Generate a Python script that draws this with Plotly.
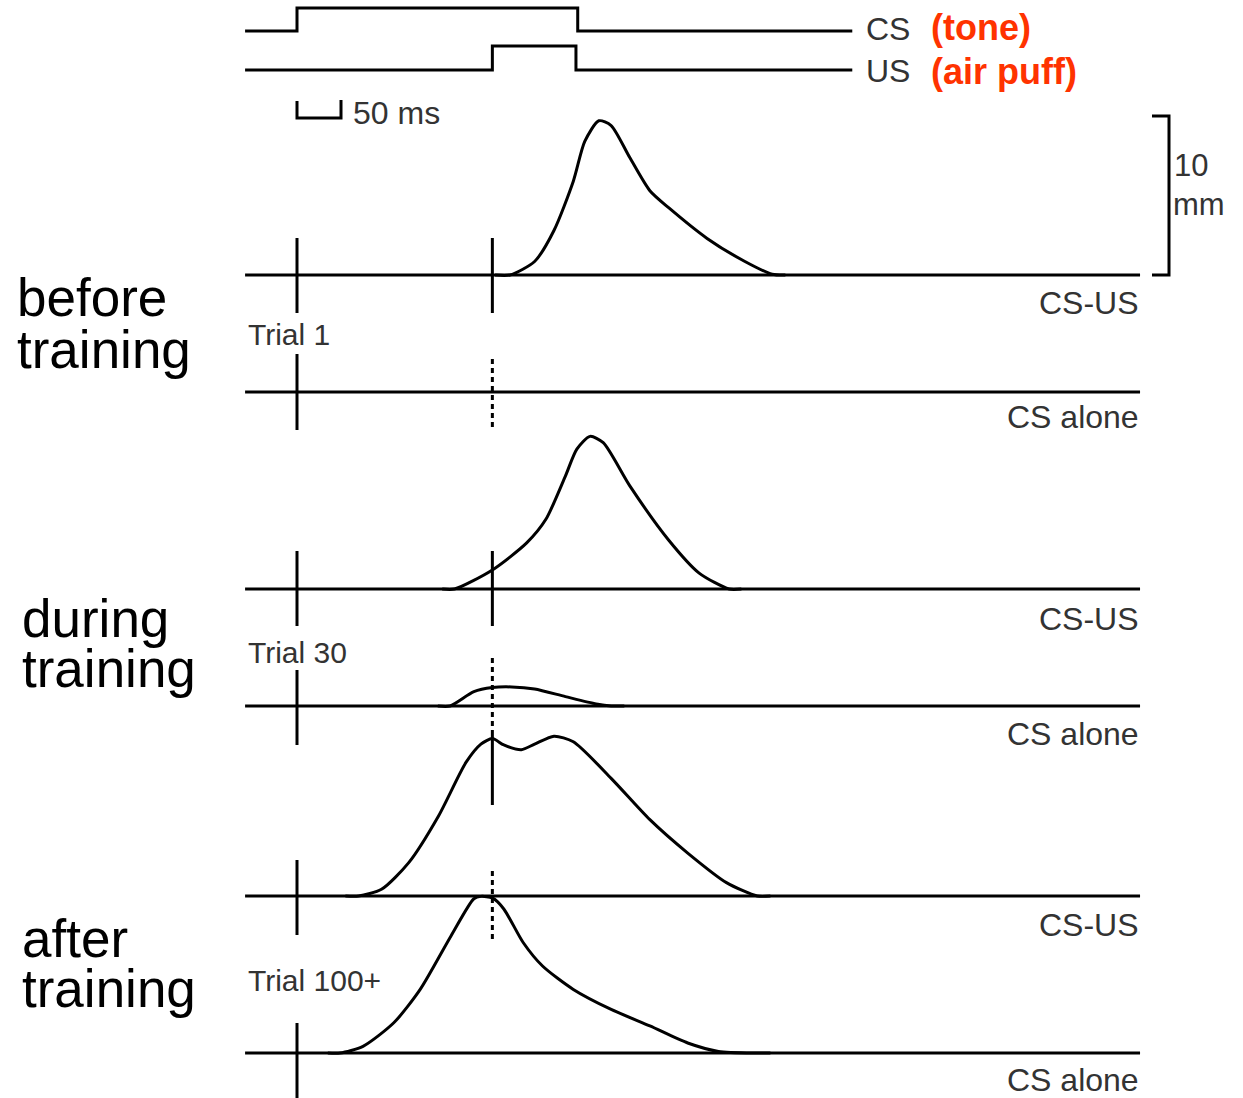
import plotly.graph_objects as go

# ---------------- data (time in ms, amplitude in mm of eyelid closure) ----------------
TRACE_START = -59
TRACE_END = 958
CS_ON = 0
US_ON = 222
CS_OFF = 319
US_OFF = 317
STIM_END = 631

row_labels = ["CS-US", "CS alone", "CS-US", "CS alone", "CS-US", "CS alone"]
trial_labels = ["Trial 1", "Trial 30", "Trial 100+"]
stage_labels = [("before", "training"), ("during", "training"), ("after", "training")]

# response portions of each trace (baseline is flat elsewhere)
# before training, CS-US
t_before_csus = [225, 242, 270, 292, 314, 327, 343, 357, 378, 401, 423, 466, 509, 540, 555]
a_before_csus = [0, 0, 0.85, 2.8, 5.9, 8.4, 9.7, 9.4, 7.4, 5.3, 4.2, 2.3, 0.85, 0.05, 0]
# before training, CS alone (no response)
t_before_cs = []
a_before_cs = []
# during training, CS-US
t_during_csus = [165, 179, 222, 261, 283, 305, 318, 333, 348, 378, 422, 457, 491, 505]
a_during_csus = [0, 0, 1.2, 2.9, 4.4, 7.1, 8.8, 9.6, 9.2, 6.5, 3.1, 1.0, 0, 0]
# during training, CS alone
t_during_cs = [160, 174, 201, 222, 244, 270, 305, 340, 357, 372]
a_during_cs = [0, 0, 0.9, 1.16, 1.2, 1.07, 0.59, 0.13, 0, 0]
# after training, CS-US
t_after_csus = [55, 70, 96, 127, 161, 192, 209, 222, 235, 255, 270, 292, 314, 357, 401, 444, 488, 523, 538]
a_after_csus = [0, 0, 0.42, 2.1, 5.05, 8.4, 9.55, 9.9, 9.5, 9.2, 9.55, 10.05, 9.7, 7.4, 4.8, 2.7, 0.84, 0, 0]
# after training, CS alone
t_after_cs = [35, 49, 75, 110, 140, 175, 201, 209, 222, 235, 257, 279, 314, 357, 401, 444, 479, 523, 538]
a_after_cs = [0, 0, 0.42, 1.9, 4.0, 7.36, 9.7, 9.85, 9.75, 9.06, 6.95, 5.47, 4.0, 2.74, 1.7, 0.63, 0.1, 0, 0]

curves = [
    (t_before_csus, a_before_csus),
    (t_before_cs, a_before_cs),
    (t_during_csus, a_during_csus),
    (t_during_cs, a_during_cs),
    (t_after_csus, a_after_csus),
    (t_after_cs, a_after_cs),
]
us_tick_solid = [True, False, True, False, True, False]

# stimulus timing traces
cs_t = [TRACE_START, CS_ON, CS_ON, CS_OFF, CS_OFF, STIM_END]
cs_level = [0, 0, 1, 1, 0, 0]
us_t = [TRACE_START, US_ON, US_ON, US_OFF, US_OFF, STIM_END]
us_level = [0, 0, 1, 1, 0, 0]

# ---------------- layout geometry (pixels of the page) ----------------
W, H = 1243, 1098
PX_PER_MS = 0.88
PX_PER_MM = 15.9
X_ZERO_PX = 297


def xt(px):
    return (px - X_ZERO_PX) / PX_PER_MS


def ym(py):
    return -py / PX_PER_MM


row_base_px = [275, 392, 589, 706, 896, 1053]
cs_tick_px = [(238, 313), (354, 430), (551, 626), (670, 745), (860, 935), (1023, 1098)]
us_tick_px = [(238, 313), (359, 430), (551, 626), (658, 730), (730, 805), (871, 940)]
stim_rows_px = [(31, 8), (70, 46)]  # (low, high)

LINE = "#000000"
TXT = "#333333"
RED = "#ff3300"
LW = 3

fig = go.Figure()

# stimulus traces
for (tt, lv), (low, high) in zip([(cs_t, cs_level), (us_t, us_level)], stim_rows_px):
    fig.add_trace(go.Scatter(
        x=tt, y=[ym(low) + v * (ym(high) - ym(low)) for v in lv],
        mode="lines", line=dict(color=LINE, width=LW), hoverinfo="skip"))

# flat baselines + response curves
for (tt, aa), base in zip(curves, row_base_px):
    fig.add_trace(go.Scatter(
        x=[TRACE_START, TRACE_END], y=[ym(base), ym(base)], mode="lines",
        line=dict(color=LINE, width=LW), hoverinfo="skip"))
    if tt:
        fig.add_trace(go.Scatter(
            x=tt, y=[ym(base) + a for a in aa], mode="lines",
            line=dict(color=LINE, width=LW, shape="spline", smoothing=0.7),
            hoverinfo="skip"))

# CS / US onset ticks
shapes = []
for (a, b) in cs_tick_px:
    shapes.append(dict(type="line", xref="x", yref="y", x0=CS_ON, x1=CS_ON,
                       y0=ym(a), y1=ym(b), line=dict(color=LINE, width=LW)))
for (a, b), solid in zip(us_tick_px, us_tick_solid):
    shapes.append(dict(type="line", xref="x", yref="y", x0=US_ON, x1=US_ON,
                       y0=ym(a), y1=ym(b),
                       line=dict(color=LINE, width=LW,
                                 dash="solid" if solid else "5px,4px")))

# 50 ms scale bar
sb = [(0, 101), (0, 118), (50, 118), (50, 100)]
fig.add_trace(go.Scatter(x=[p[0] for p in sb], y=[ym(p[1]) for p in sb], mode="lines",
                         line=dict(color=LINE, width=LW), hoverinfo="skip"))
# 10 mm scale bracket
bx0, bx1 = xt(1152), xt(1169)
top_mm = ym(275) + 10
fig.add_trace(go.Scatter(x=[bx0, bx1, bx1, bx0], y=[top_mm, top_mm, ym(275), ym(275)],
                         mode="lines", line=dict(color=LINE, width=LW), hoverinfo="skip"))

# ---------------- text ----------------
ann = []


def text(s, px, py, size, color=TXT, anchor="left", bold=False):
    ann.append(dict(text=f"<b>{s}</b>" if bold else s, x=px / W, y=1 - py / H,
                    xref="paper", yref="paper", xanchor=anchor, yanchor="middle",
                    showarrow=False, font=dict(size=size, color=color,
                                               family="Liberation Sans, Arial, sans-serif")))


text("CS", 864, 29, 32)
text("(tone)", 929, 28, 36, RED, bold=True)
text("US", 864, 71, 32)
text("(air puff)", 929, 71, 36, RED, bold=True)
text("50 ms", 351, 113, 32)
text("10", 1172, 165, 31)
text("mm", 1171, 205, 31)

right_y = [303, 417, 619, 734, 925, 1080]
for lab, yy in zip(row_labels, right_y):
    text(lab, 1141, yy, 32, anchor="right")

for lab, yy in zip(trial_labels, [335, 652, 980]):
    text(lab, 246, yy, 30)

for (l1, l2), (xx, y1, y2) in zip(stage_labels, [(15, 298, 349), (20, 618, 668), (20, 938, 988)]):
    text(l1, xx, y1, 53, color="#000000")
    text(l2, xx, y2, 53, color="#000000")

fig.update_layout(
    width=W, height=H, autosize=False,
    margin=dict(l=0, r=0, t=0, b=0, pad=0),
    paper_bgcolor="white", plot_bgcolor="white",
    showlegend=False, shapes=shapes, annotations=ann,
    xaxis=dict(range=[xt(0), xt(W)], visible=False, fixedrange=True),
    yaxis=dict(range=[ym(H), ym(0)], visible=False, fixedrange=True),
)

fig.write_html("out.html", config={"displayModeBar": False})
